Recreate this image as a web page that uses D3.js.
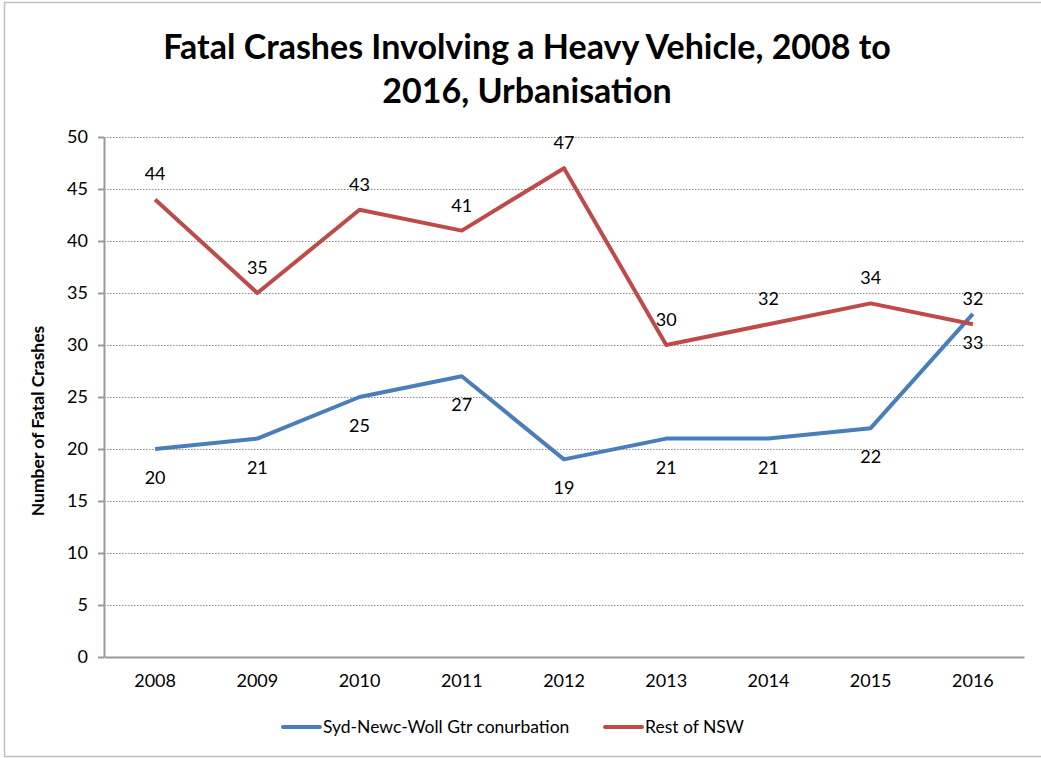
<!DOCTYPE html>
<html lang="en">
<head>
<meta charset="UTF-8">
<script src="https://d3js.org/d3.v7.min.js"></script>
<title>Fatal Crashes Involving a Heavy Vehicle</title>
<style>
  body { margin: 0; background: #fff; }
  svg text { font-family: Lato, "Open Sans", sans-serif; fill: #000; }
  .grid line { stroke: #8c8c8c; stroke-dasharray: 1.5 1.5; stroke-width: 1; }
  .axis path, .axis line { stroke: #9a9a9a; stroke-width: 2; }
</style>
</head>
<body>
<svg width="1041" height="758"></svg>
<script>
var years = ["2008", "2009", "2010", "2011", "2012", "2013", "2014", "2015", "2016"];
var sydney = [20, 21, 25, 27, 19, 21, 21, 22, 33];
var restNSW = [44, 35, 43, 41, 47, 30, 32, 34, 32];
var seriesNames = ["Syd-Newc-Woll Gtr conurbation", "Rest of NSW"];
var yTicks = [0, 5, 10, 15, 20, 25, 30, 35, 40, 45, 50];

var svg = d3.select("svg");
var plotLeft = 104, plotRight = 1024, plotTop = 137, plotBottom = 657;

// outer chart border
svg.append("rect").attr("x", 4.5).attr("y", 2.5).attr("width", 1050).attr("height", 754)
    .attr("fill", "none").attr("stroke", "#bfbfbf").attr("stroke-width", 1.5);

var x = d3.scaleBand().domain(years).range([plotLeft, plotRight]);
var y = d3.scaleLinear().domain([0, 50]).range([plotBottom, plotTop]);

// gridlines
svg.append("g").attr("class", "grid").selectAll("line")
    .data(yTicks.filter(d => d > 0))
    .enter().append("line")
    .attr("x1", plotLeft).attr("x2", plotRight)
    .attr("y1", d => y(d) + 0.5).attr("y2", d => y(d) + 0.5);

// y axis
var yAxis = svg.append("g").attr("class", "axis")
    .attr("transform", "translate(" + plotLeft + ",0)")
    .call(d3.axisLeft(y).tickValues(yTicks).tickSize(6).tickPadding(10).tickSizeOuter(0));
yAxis.selectAll("text").style("font-size", "18px");

// x axis
var xAxis = svg.append("g").attr("class", "axis")
    .attr("transform", "translate(0," + plotBottom + ")")
    .call(d3.axisBottom(x).tickSize(0).tickPadding(17).tickSizeOuter(0));
xAxis.selectAll("text").style("font-size", "18px");

var line = d3.line()
    .x((d, i) => x(years[i]) + x.bandwidth() / 2)
    .y(d => y(d));

var series = [
  { name: seriesNames[0], values: sydney, color: "#4a7ebb", dy: 35 },
  { name: seriesNames[1], values: restNSW, color: "#be4b48", dy: -19 }
];

series.forEach(function(s) {
  svg.append("path").datum(s.values)
      .attr("fill", "none").attr("stroke", s.color).attr("stroke-width", 4)
      .attr("stroke-linejoin", "round")
      .attr("d", line);
});

series.forEach(function(s) {
  svg.append("g").selectAll("text")
      .data(s.values)
      .enter().append("text")
      .attr("x", (d, i) => x(years[i]) + x.bandwidth() / 2)
      .attr("y", d => y(d) + s.dy)
      .attr("text-anchor", "middle")
      .style("font-size", "18px")
      .text(d => d);
});

// title
var title = svg.append("text").attr("text-anchor", "middle")
    .style("font-size", "34px").style("font-weight", "bold");
title.append("tspan").attr("x", 527).attr("y", 59).text("Fatal Crashes Involving a Heavy Vehicle, 2008 to");
title.append("tspan").attr("x", 527).attr("y", 103).text("2016, Urbanisation");

// y axis title
svg.append("text")
    .attr("transform", "translate(44,421) rotate(-90)")
    .attr("text-anchor", "middle")
    .style("font-size", "17.5px").style("font-weight", "bold")
    .text("Number of Fatal Crashes");

// legend
var legendX = [283, 605];
series.forEach(function(s, i) {
  var g = svg.append("g").attr("transform", "translate(" + legendX[i] + ",727)");
  g.append("line").attr("x1", 0).attr("x2", 37).attr("y1", 0).attr("y2", 0)
      .attr("stroke", s.color).attr("stroke-width", 4).attr("stroke-linecap", "round");
  g.append("text").attr("x", 40).attr("y", 6).style("font-size", "17.5px").text(s.name);
});
</script>
</body>
</html>
